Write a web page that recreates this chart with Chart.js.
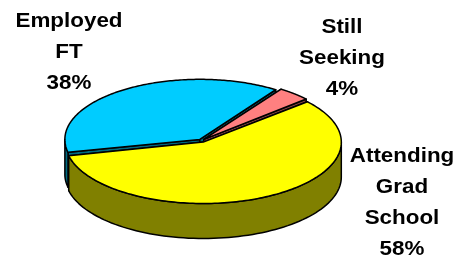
<!DOCTYPE html>
<html>
<head>
<meta charset="utf-8">
<script src="https://cdn.jsdelivr.net/npm/chart.js@4"></script>
<style>
    html, body { margin: 0; padding: 0; background: #fff; overflow: hidden; }
    #wrap { width: 469px; height: 259px; }
</style>
</head>
<body>
<div id="wrap"><canvas id="pie" width="469" height="259"></canvas></div>
<script>
// Chart data
const categories = ['Employed FT', 'Still Seeking', 'Attending Grad School'];
const labelLines = [['Employed', 'FT'], ['Still', 'Seeking'], ['Attending', 'Grad', 'School']];
const shares = [38, 4, 58];
const topColors = ['#00CCFF', '#FF8080', '#FFFF00'];
const sideColors = ['#006A80', '#804040', '#808000'];
const explode = [12, 14, 16];

// 3D look
const SQUASH = 0.445;
const DEPTH = 35;
const labelAnchors = [[69, 27], [342, 33], [402, 162]];
const LINE_H = 31;
const TEXT_STRETCH = 1.12;

// Geometry of an arc element as Chart.js draws it (offset + radius fix), in circle space
function sliceGeom(arc) {
    const p = arc.getProps(['x', 'y', 'startAngle', 'endAngle', 'outerRadius', 'circumference'], true);
    const off = (arc.options.offset || 0) / 4;
    const mid = (p.startAngle + p.endAngle) / 2;
    const fix = 1 - Math.sin(Math.min(Math.PI, p.circumference || 0));
    const rOff = off * fix;
    const R = p.outerRadius + rOff;
    const alpha = p.endAngle - p.startAngle;
    const beta = Math.max(0.001, alpha * R - rOff / Math.PI) / R;
    const trim = (alpha - beta) / 2;
    return {
        cx: p.x + Math.cos(mid) * off,
        cy: p.y + Math.sin(mid) * off,
        pivot: p.y,
        R: R,
        s: p.startAngle + trim,
        e: p.endAngle - trim,
        mid: mid
    };
}

// circle space -> squashed screen point
function pt(g, a, r, dz) {
    return [g.cx + Math.cos(a) * r, g.pivot + (g.cy - g.pivot + Math.sin(a) * r) * SQUASH + dz];
}

function drawSides(ctx, g, color) {
    ctx.fillStyle = color;
    ctx.strokeStyle = '#000';
    ctx.lineWidth = 1.5;
    ctx.lineJoin = 'round';

    // radial faces
    [g.s, g.e].forEach(a => {
        const c0 = pt(g, a, 0, 0);
        const e0 = pt(g, a, g.R, 0);
        ctx.beginPath();
        ctx.moveTo(c0[0], c0[1]);
        ctx.lineTo(e0[0], e0[1]);
        ctx.lineTo(e0[0], e0[1] + DEPTH);
        ctx.lineTo(c0[0], c0[1] + DEPTH);
        ctx.closePath();
        ctx.fill();
        ctx.stroke();
    });

    // outer wall, only the part facing the viewer
    for (let k = -1; k <= 2; k++) {
        const a1 = Math.max(g.s, 2 * Math.PI * k);
        const a2 = Math.min(g.e, 2 * Math.PI * k + Math.PI);
        if (a2 <= a1) continue;
        const n = 80;
        ctx.beginPath();
        for (let i = 0; i <= n; i++) {
            const q = pt(g, a1 + (a2 - a1) * i / n, g.R, 0);
            if (i === 0) ctx.moveTo(q[0], q[1]); else ctx.lineTo(q[0], q[1]);
        }
        for (let i = n; i >= 0; i--) {
            const q = pt(g, a1 + (a2 - a1) * i / n, g.R, DEPTH);
            ctx.lineTo(q[0], q[1]);
        }
        ctx.closePath();
        ctx.fill();
        ctx.stroke();
    }
}

const pie3d = {
    id: 'pie3d',
    beforeDatasetsDraw(chart) {
        const ctx = chart.ctx;
        const arcs = chart.getDatasetMeta(0).data;
        const order = arcs.map((arc, i) => ({ g: sliceGeom(arc), i: i }))
            .sort((a, b) => Math.sin(a.g.mid) - Math.sin(b.g.mid));
        ctx.save();
        order.forEach(o => drawSides(ctx, o.g, sideColors[o.i]));
        ctx.restore();

        // squash the tops Chart.js is about to draw
        const pivot = arcs[0].y;
        ctx.save();
        ctx.translate(0, pivot);
        ctx.scale(1, SQUASH);
        ctx.translate(0, -pivot);
    },
    afterDatasetsDraw(chart) {
        const ctx = chart.ctx;
        ctx.restore();
        // outlines of the tops, in screen space so the line width stays even
        ctx.save();
        ctx.strokeStyle = '#000';
        ctx.lineWidth = 1.5;
        ctx.lineJoin = 'round';
        chart.getDatasetMeta(0).data.forEach(arc => {
            const g = sliceGeom(arc);
            const c = pt(g, 0, 0, 0);
            const n = 160;
            ctx.beginPath();
            ctx.moveTo(c[0], c[1]);
            for (let i = 0; i <= n; i++) {
                const q = pt(g, g.s + (g.e - g.s) * i / n, g.R, 0);
                ctx.lineTo(q[0], q[1]);
            }
            ctx.closePath();
            ctx.stroke();
        });
        ctx.restore();
    }
};

const sliceLabels = {
    id: 'sliceLabels',
    afterDraw(chart) {
        const ctx = chart.ctx;
        const total = shares.reduce((a, b) => a + b, 0);
        ctx.save();
        ctx.font = 'bold 20px "Liberation Sans", Arial, sans-serif';
        ctx.fillStyle = '#000';
        ctx.textAlign = 'center';
        ctx.textBaseline = 'alphabetic';
        labelLines.forEach((lines, i) => {
            const text = lines.concat([Math.round(shares[i] / total * 100) + '%']);
            text.forEach((t, j) => {
                ctx.save();
                ctx.translate(labelAnchors[i][0], labelAnchors[i][1] + j * LINE_H);
                ctx.scale(TEXT_STRETCH, 1);
                ctx.fillText(t, 0, 0);
                ctx.restore();
            });
        });
        ctx.restore();
    }
};

new Chart(document.getElementById('pie'), {
    type: 'pie',
    data: {
        labels: categories,
        datasets: [{
            data: shares,
            backgroundColor: topColors,
            borderWidth: 0,
            offset: explode,
            clip: false
        }]
    },
    options: {
        responsive: false,
        animation: false,
        rotation: 257.5,
        radius: 134,
        layout: { padding: { top: 22, right: 66, left: 0, bottom: 0 } },
        plugins: {
            legend: { display: false },
            tooltip: { enabled: false }
        }
    },
    plugins: [pie3d, sliceLabels]
});
</script>
</body>
</html>
